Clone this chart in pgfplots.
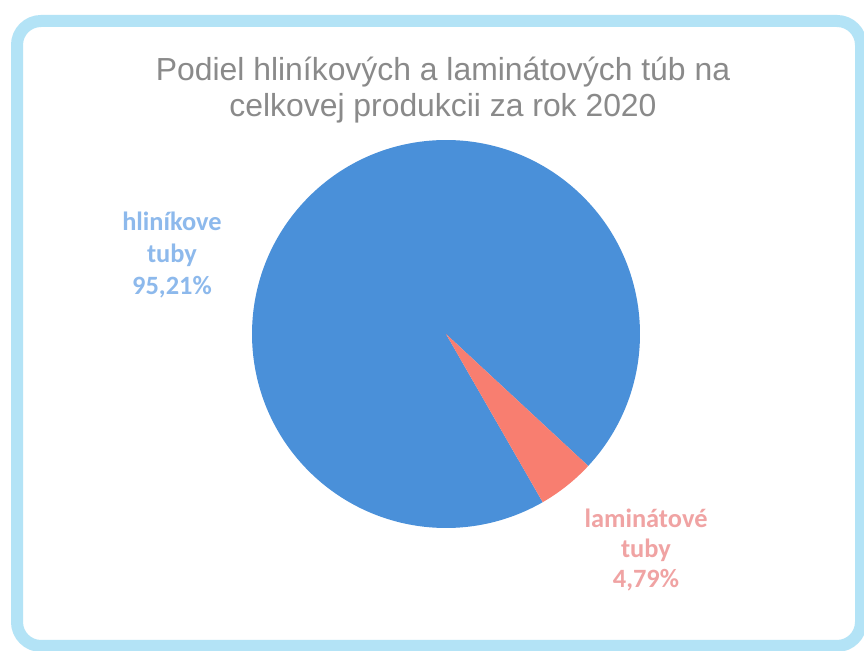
\documentclass[border=0pt]{standalone}
\usepackage{pgfplots}
\usepackage{pgfplotstable}
\pgfplotsset{compat=1.18}
\usepackage{fontspec}
\setmainfont{Liberation Sans}
\newfontfamily\labelfont{Carlito}

\definecolor{pieblue}{HTML}{4A90D9}
\definecolor{piered}{HTML}{F87E70}
\definecolor{lblblue}{HTML}{8DB9EC}
\definecolor{lblred}{HTML}{F0A3A3}
\definecolor{titlegray}{HTML}{8A8A8A}
\definecolor{framecyan}{HTML}{B3E3F6}

\pgfplotstableread{
label value
hlinikove 95.21
laminatove 4.79
}\piedata

\begin{document}
\begin{tikzpicture}
\path[use as bounding box] (0,0) rectangle (864bp,651bp);
\fill[white] (0,0) rectangle (864bp,651bp);

\pgfplotstablegetelem{1}{value}\of\piedata
\let\vlam\pgfplotsretval
% slice angles, laminatove slice sits at the lower right
\pgfmathsetmacro\redstart{-60.1}
\pgfmathsetmacro\redend{\redstart+3.6*\vlam}
\pgfmathsetmacro\blueend{\redstart+360}

\begin{axis}[
  at={(0,0)}, anchor=south west,
  scale only axis, width=864bp, height=651bp,
  xmin=0, xmax=864, ymin=0, ymax=651,
  hide axis, clip=false,
]
% frame
\draw[framecyan, line width=12bp, rounded corners=24bp]
  (axis cs:17,5) rectangle (axis cs:861,630);

% pie
\fill[pieblue] (axis cs:446,317) -- ++(\redend:194bp)
  arc[start angle=\redend, end angle=\blueend, radius=194bp] -- cycle;
\fill[piered] (axis cs:446,317) -- ++(\redstart:194bp)
  arc[start angle=\redstart, end angle=\redend, radius=194bp] -- cycle;

% title
\node[titlegray, font=\fontsize{32}{36}\selectfont, align=center, anchor=center]
  at (axis cs:443,561) {Podiel hliníkových a laminátových túb na\\celkovej produkcii za rok 2020};

% labels
\node[lblblue, font=\labelfont\bfseries\fontsize{26.5}{32}\selectfont, align=center]
  at (axis cs:172,396) {hliníkove\\tuby\\95,21\%};
\node[lblred, font=\labelfont\bfseries\fontsize{26.5}{30}\selectfont, align=center]
  at (axis cs:646,101) {laminátové\\tuby\\4,79\%};
\end{axis}
\end{tikzpicture}
\end{document}
